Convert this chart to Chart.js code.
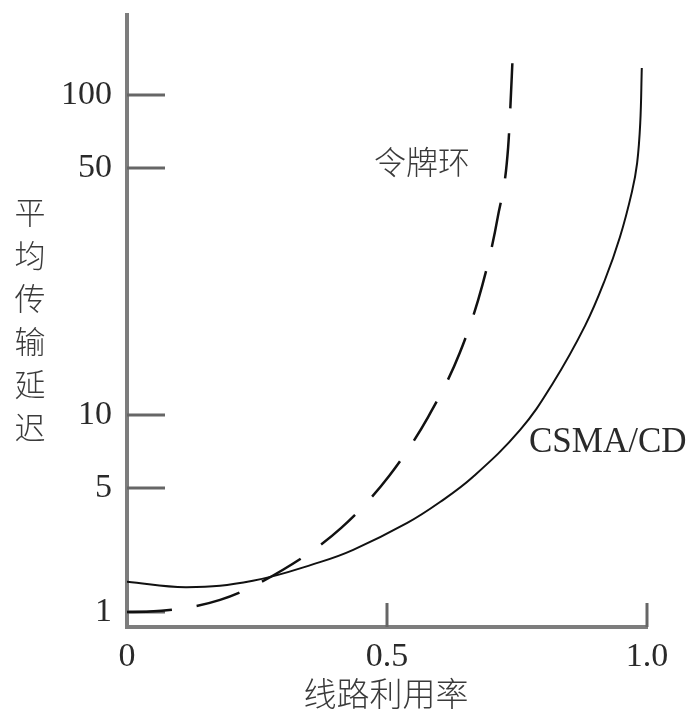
<!DOCTYPE html>
<html>
<head>
  <meta charset="UTF-8">
  <script src="https://cdn.jsdelivr.net/npm/chart.js@4.4.0/dist/chart.umd.min.js"></script>
  <style>
    html, body { margin: 0; padding: 0; background: #fff; }
    #wrap { width: 694px; height: 721px; }
  </style>
</head>
<body>
  <div id="wrap"><canvas id="myChart" width="694" height="721"></canvas></div>
  <script>
    // tick labels
    const xTicks = [0, 0.5, 1.0];
    const xTickLabels = ['0', '0.5', '1.0'];
    const yTicks = [1, 5, 10, 50, 100];
    const yTickLabels = ['1', '5', '10', '50', '100'];

    // CSMA/CD (solid)
    const csmaX = [0, 0.115, 0.242, 0.371, 0.435, 0.539, 0.602, 0.665, 0.756, 0.819, 0.881, 0.919, 0.948, 0.971, 0.981, 0.987, 0.990];
    const csmaY = [1.48, 1.38, 1.50, 1.91, 2.24, 3.18, 4.17, 5.55, 8.68, 12.3, 17.9, 24.1, 31.9, 42.8, 52.4, 76.6, 129.5];

    // 令牌环 (dashed)
    const tokenX = [0, 0.044, 0.179, 0.300, 0.412, 0.504, 0.579, 0.640, 0.683, 0.713, 0.733, 0.740, 0.742];
    const tokenY = [1.0, 1.006, 1.17, 1.73, 2.98, 5.60, 9.81, 15.0, 23.2, 36.3, 61.0, 120, 151];

    // the delay axis in the drawing is not a true log scale,
    // so map values through its own knots (value -> fraction of axis height)
    const knotVal = [0.82, 1, 5, 10, 50, 100, 215];
    const knotFrac = [0, 0.0245, 0.2271, 0.3464, 0.75, 0.8693, 1];
    function toAxis(v) {
      const lv = Math.log10(v);
      for (let i = 0; i < knotVal.length - 1; i++) {
        const a = Math.log10(knotVal[i]), b = Math.log10(knotVal[i + 1]);
        if (lv <= b || i == knotVal.length - 2) {
          return knotFrac[i] + (lv - a) / (b - a) * (knotFrac[i + 1] - knotFrac[i]);
        }
      }
    }

    const serif = "'Liberation Serif', 'DejaVu Serif', serif";
    const cjk = "'Noto Sans CJK SC', sans-serif";
    const ink = '#2a2a2a';
    const axisGray = '#7d7d7d';

    const marks = {
      id: 'marks',
      beforeDatasetsDraw(chart) {
        const ctx = chart.ctx;
        const xs = chart.scales.x, ys = chart.scales.y;
        ctx.save();
        ctx.strokeStyle = '#666';
        ctx.lineWidth = 3;
        // y tick marks point into the plot
        yTicks.forEach(function(v) {
          const py = ys.getPixelForValue(toAxis(v));
          ctx.beginPath();
          ctx.moveTo(xs.left, py);
          ctx.lineTo(xs.left + 38, py);
          ctx.stroke();
        });
        // x tick marks point up
        xTicks.slice(1).forEach(function(v) {
          const px = xs.getPixelForValue(v);
          ctx.beginPath();
          ctx.moveTo(px, ys.bottom);
          ctx.lineTo(px, ys.bottom - 24);
          ctx.stroke();
        });
        ctx.restore();
      },
      afterDraw(chart) {
        const ctx = chart.ctx;
        ctx.save();
        ctx.fillStyle = '#3a3a3a';
        ctx.textBaseline = 'middle';
        ctx.font = '300 32px ' + cjk;
        ctx.textAlign = 'left';
        ctx.fillText('令牌环', 374, 162);
        ctx.fillStyle = ink;
        ctx.font = '35px ' + serif;
        ctx.fillText('CSMA/CD', 529, 443);
        ctx.fillStyle = '#3a3a3a';
        ctx.font = '300 33px ' + cjk;
        ctx.textAlign = 'center';
        ctx.fillText('线路利用率', 386, 693);
        // vertical y title, one character per line
        ctx.font = '300 31px ' + cjk;
        const title = '平均传输延迟';
        for (let i = 0; i < title.length; i++) {
          ctx.fillText(title[i], 30, 212 + i * 43);
        }
        ctx.restore();
      }
    };

    const ctx = document.getElementById('myChart').getContext('2d');
    const chart = new Chart(ctx, {
      type: 'line',
      data: {
        datasets: [{
          label: 'CSMA/CD',
          data: csmaX.map(function(x, i) { return { x: x, y: toAxis(csmaY[i]) }; }),
          borderColor: '#111',
          borderWidth: 2,
          pointRadius: 0,
          tension: 0.4,
          fill: false
        }, {
          label: '令牌环',
          data: tokenX.map(function(x, i) { return { x: x, y: toAxis(tokenY[i]) }; }),
          borderColor: '#111',
          borderWidth: 2.5,
          borderDash: [45, 25],
          pointRadius: 0,
          cubicInterpolationMode: 'monotone',
          fill: false
        }]
      },
      options: {
        responsive: false,
        animation: false,
        layout: { padding: { top: 15, right: 47, left: 0, bottom: 0 } },
        plugins: { legend: { display: false }, tooltip: { enabled: false } },
        scales: {
          x: {
            type: 'linear',
            min: 0, max: 1,
            grid: { display: false, drawTicks: false },
            border: { display: true, color: axisGray, width: 4 },
            afterBuildTicks: function(scale) {
              scale.ticks = xTicks.map(function(v) { return { value: v }; });
            },
            afterFit: function(scale) {
              scale.height = 94;
              scale.paddingLeft = 0;
              scale.paddingRight = 0;
            },
            ticks: {
              padding: 10,
              maxRotation: 0,
              autoSkip: false,
              color: ink,
              font: { family: serif, size: 34 },
              callback: function(value, index) { return xTickLabels[index]; }
            }
          },
          y: {
            type: 'linear',
            min: 0, max: 1,
            grid: { display: false, drawTicks: false },
            border: { display: true, color: axisGray, width: 4 },
            afterBuildTicks: function(scale) {
              scale.ticks = yTicks.map(function(v) { return { value: toAxis(v) }; });
            },
            afterFit: function(scale) {
              scale.width = 127;
              scale.paddingTop = 0;
              scale.paddingBottom = 0;
            },
            ticks: {
              padding: 15,
              autoSkip: false,
              color: ink,
              font: { family: serif, size: 34 },
              callback: function(value, index) { return yTickLabels[index]; }
            }
          }
        }
      },
      plugins: [marks]
    });
  </script>
</body>
</html>
